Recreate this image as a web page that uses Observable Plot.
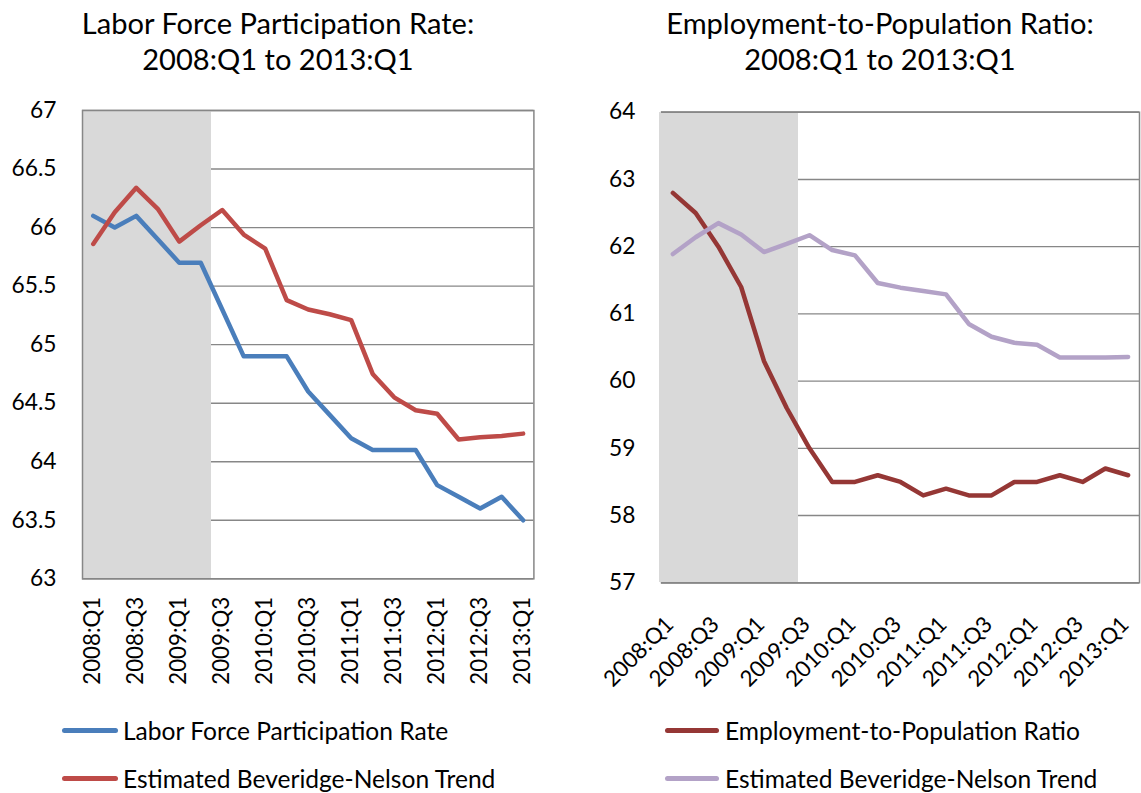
<!DOCTYPE html>
<html><head><meta charset="utf-8">
<script src="https://cdn.jsdelivr.net/npm/d3@7"></script>
<script src="https://cdn.jsdelivr.net/npm/@observablehq/plot@0.6"></script>
<style>
html,body{margin:0;padding:0;background:#fff;}
#root{position:relative;width:1141px;height:793px;overflow:hidden;font-family:Lato,sans-serif;color:#000;}
.title{position:absolute;text-align:center;line-height:36px;white-space:nowrap;}
.panel{position:absolute;}
.leg{position:absolute;display:flex;align-items:center;height:30px;white-space:nowrap;}
.sw{height:5px;border-radius:2.5px;}
</style></head><body><div id="root"></div>
<script>
// ---- data ----
const quarters = ["2008:Q1","2008:Q2","2008:Q3","2008:Q4","2009:Q1","2009:Q2","2009:Q3","2009:Q4",
  "2010:Q1","2010:Q2","2010:Q3","2010:Q4","2011:Q1","2011:Q2","2011:Q3","2011:Q4",
  "2012:Q1","2012:Q2","2012:Q3","2012:Q4","2013:Q1"];
const labelQuarters = ["2008:Q1","2008:Q3","2009:Q1","2009:Q3","2010:Q1","2010:Q3","2011:Q1","2011:Q3","2012:Q1","2012:Q3","2013:Q1"];
const shadedQuarters = ["2008:Q1","2008:Q2","2008:Q3","2008:Q4","2009:Q1","2009:Q2"];
const lfpr = [66.1,66.0,66.1,65.9,65.7,65.7,65.3,64.9,64.9,64.9,64.6,64.4,64.2,64.1,64.1,64.1,63.8,63.7,63.6,63.7,63.5];
const lfprTrend = [65.86,66.13,66.34,66.16,65.88,66.02,66.15,65.94,65.82,65.38,65.30,65.26,65.21,64.75,64.55,64.44,64.41,64.19,64.21,64.22,64.24];
const epop = [62.8,62.5,62.0,61.4,60.3,59.6,59.0,58.5,58.5,58.6,58.5,58.3,58.4,58.3,58.3,58.5,58.5,58.6,58.5,58.7,58.6];
const epopTrend = [61.89,62.14,62.35,62.18,61.92,62.04,62.17,61.95,61.87,61.46,61.39,61.34,61.29,60.85,60.66,60.57,60.54,60.35,60.35,60.35,60.36];
const leftTicks = [63,63.5,64,64.5,65,65.5,66,66.5,67];
const rightTicks = [57,58,59,60,61,62,63,64];
const leftTitle = ["Labor Force Participation Rate:", "2008:Q1 to 2013:Q1"];
const rightTitle = ["Employment-to-Population Ratio:", "2008:Q1 to 2013:Q1"];
const leftNames = ["Labor Force Participation Rate", "Estimated Beveridge-Nelson Trend"];
const rightNames = ["Employment-to-Population Ratio", "Estimated Beveridge-Nelson Trend"];

// ---- fonts ----
const FONT = "Lato";
const ctx = document.createElement("canvas").getContext("2d");
function fit(text, w) { ctx.font = `100px ${FONT}`; return 100 * w / ctx.measureText(text).width; }
const titleFs = fit(leftTitle[0], 393);
const legendFs = fit(leftNames[0], 326);
const yTickFs = fit("66.5", 45);
const xTickFs = fit("2008:Q1", 88);

const root = document.getElementById("root");
const GRID = "#878787";

function panel(o) {
  const marks = [];
  const shade = Plot.barY(shadedQuarters, {x: d => d, y1: o.yDomain[0], y2: o.yDomain[1], fill: "#d9d9d9",
    insetLeft: o.leftBorder ? 0 : -2, insetRight: 0, shapeRendering: "crispEdges"});
  if (o.leftBorder) {
    marks.push(Plot.gridY(o.yTicks, {stroke: GRID, strokeOpacity: 1, strokeWidth: 1.4}));
    marks.push(shade);
    marks.push(Plot.frame({stroke: GRID, strokeWidth: 1.5}));
  } else {
    marks.push(Plot.frame({stroke: GRID, strokeWidth: 1.5}));
    marks.push(Plot.gridY(o.yTicks, {stroke: GRID, strokeOpacity: 1, strokeWidth: 1.4}));
    marks.push(shade);
    marks.push(Plot.ruleY(o.yDomain, {stroke: GRID, strokeWidth: 1.5}));
  }
  o.series.forEach(s => {
    const rows = s.values.map((v, i) => ({q: quarters[i], v}));
    marks.push(Plot.lineY(rows, {x: "q", y: "v", stroke: s.color, strokeWidth: 4.5, strokeLinejoin: "round", strokeLinecap: "round"}));
  });
  marks.push(Plot.axisY({ticks: o.yTicks, tickSize: 0, tickPadding: 26, tickFormat: d => String(d), fontSize: yTickFs, label: null}));
  marks.push(Plot.axisX({ticks: labelQuarters, tickSize: 0, tickPadding: o.xPad, tickRotate: o.rotate, fontSize: xTickFs, dx: o.xDx, label: null}));
  const svg = Plot.plot({
    width: o.width, height: o.height,
    marginLeft: o.mL, marginRight: o.mR, marginTop: o.mT, marginBottom: o.mB,
    x: {type: "band", domain: quarters, padding: 0, round: false, label: null, axis: null},
    y: {domain: o.yDomain, label: null, axis: null},
    style: {fontFamily: FONT, fontSize: yTickFs + "px", color: "#000", background: "transparent", overflow: "visible"},
    marks
  });
  const div = document.createElement("div");
  div.className = "panel";
  div.style.left = o.left + "px"; div.style.top = o.top + "px";
  div.appendChild(svg);
  root.appendChild(div);

  const t = document.createElement("div");
  t.className = "title";
  t.style.left = (o.titleCenter - 300) + "px"; t.style.width = "600px"; t.style.top = "5px";
  t.style.fontSize = titleFs + "px";
  t.innerHTML = o.title.join("<br>");
  root.appendChild(t);

  o.series.forEach((s, k) => {
    const l = document.createElement("div");
    l.className = "leg";
    l.style.left = o.legX + "px";
    l.style.top = (o.legY[k] - 15) + "px";
    const sw = document.createElement("div");
    sw.className = "sw"; sw.style.width = o.swW + "px"; sw.style.background = s.color;
    sw.style.marginRight = o.swGap + "px";
    const tx = document.createElement("span");
    tx.style.fontSize = legendFs + "px";
    tx.textContent = s.name;
    l.appendChild(sw); l.appendChild(tx);
    root.appendChild(l);
  });
}

panel({
  left: 0, top: 90, width: 570, height: 610, mL: 82, mR: 36.6, mT: 20, mB: 610 - 488.3,
  yDomain: [63, 67], yTicks: leftTicks, rotate: -90, xPad: 18, xDx: 0, leftBorder: true,
  title: leftTitle, titleCenter: 278,
  legX: 62, legY: [730, 778], swW: 56, swGap: 5,
  series: [
    {name: leftNames[0], values: lfpr, color: "#4A7EBB"},
    {name: leftNames[1], values: lfprTrend, color: "#BE4B48"}
  ]
});
panel({
  left: 590, top: 90, width: 551, height: 610, mL: 71, mR: 2, mT: 21.7, mB: 610 - 492.3,
  yDomain: [57, 64], yTicks: rightTicks, rotate: -45, xPad: 38, xDx: -3, leftBorder: false,
  title: rightTitle, titleCenter: 880,
  legX: 665, legY: [730, 778], swW: 54, swGap: 6,
  series: [
    {name: rightNames[0], values: epop, color: "#953735"},
    {name: rightNames[1], values: epopTrend, color: "#B3A2C7"}
  ]
});
</script></body></html>
